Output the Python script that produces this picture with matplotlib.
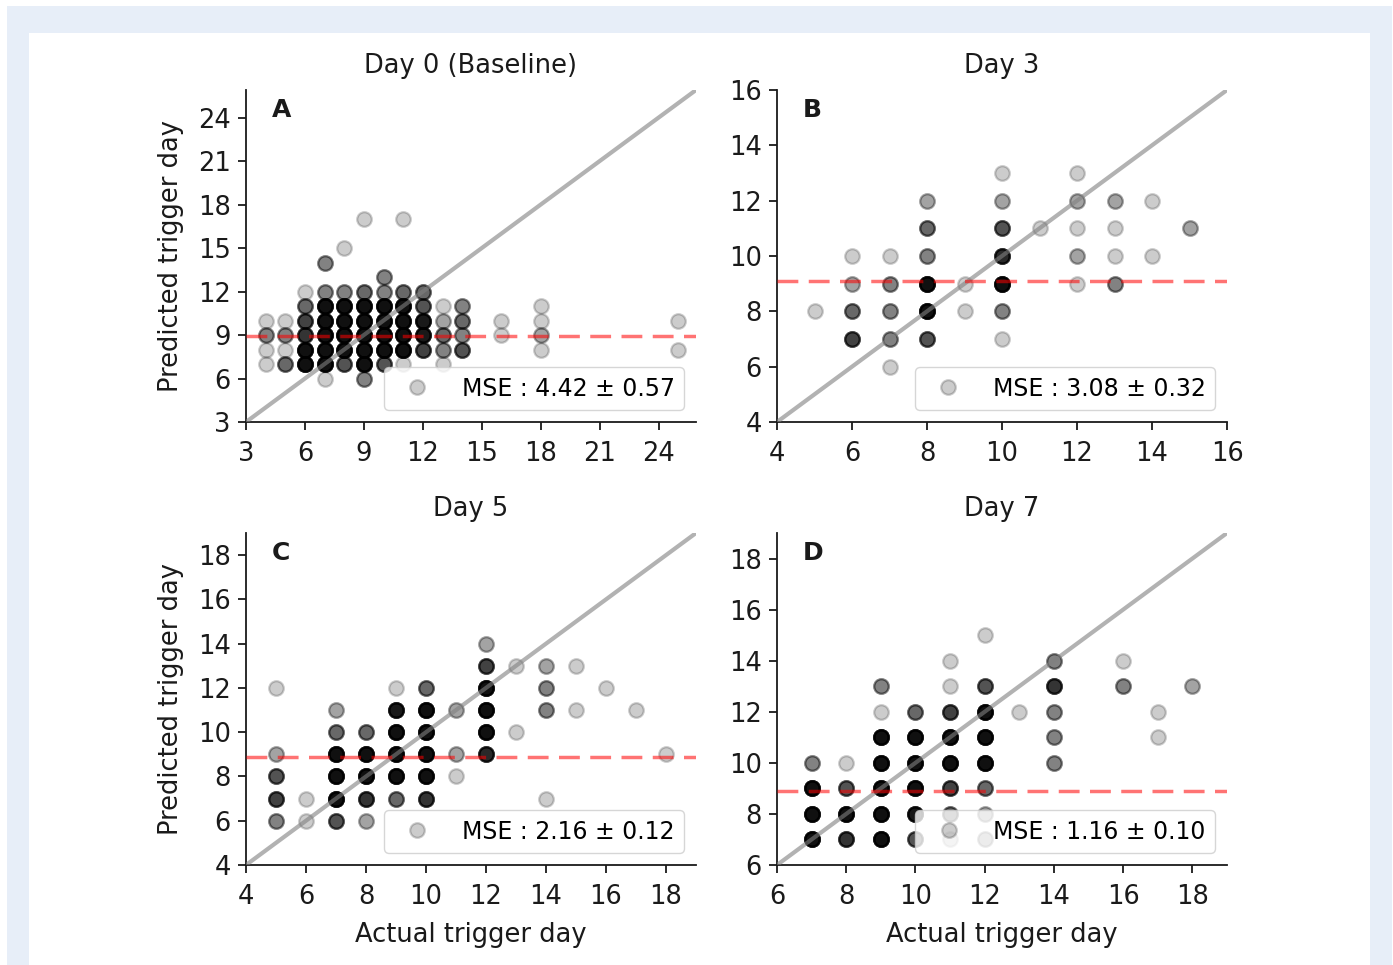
import numpy as np
import matplotlib
matplotlib.use("Agg")
import matplotlib.pyplot as plt
from matplotlib.patches import Rectangle

plt.rcParams['font.family'] = ['DejaVu Sans']
plt.rcParams['font.size'] = 18

# ---------------- data ----------------
titles = ["Day 0 (Baseline)", "Day 3", "Day 5", "Day 7"]
letters = ["A", "B", "C", "D"]
mse_labels = ["MSE : 4.42 ± 0.57", "MSE : 3.08 ± 0.32",
              "MSE : 2.16 ± 0.12", "MSE : 1.16 ± 0.10"]
mean_pred = [8.92, 9.1, 8.86, 8.88]

a_actual = [4,4,4,4, 5,5,5,5, 6,6,6,6,6,6, 7,7,7,7,7,7,7,7, 8,8,8,8,8,8,8,
            9,9,9,9,9,9,9,9, 10,10,10,10,10,10,10, 11,11,11,11,11,11,11,
            12,12,12,12,12, 13,13,13,13,13, 14,14,14,14, 16,16, 18,18,18,18, 25,25]
a_pred = [10,9,8,7, 10,9,8,7, 12,11,10,9,8,7, 14,12,11,10,9,8,7,6, 15,12,11,10,9,8,7,
          17,12,11,10,9,8,7,6, 13,12,11,10,9,8,7, 17,12,11,10,9,8,7,
          12,11,10,9,8, 11,10,9,8,7, 11,10,9,8, 10,9, 11,10,9,8, 10,8]
a_count = [1,3,1,1, 1,3,1,4, 1,4,6,7,12,12, 3,3,12,12,12,12,12,1, 1,3,12,12,12,12,5,
           1,4,12,12,12,12,12,3, 3,3,12,12,12,12,5, 1,4,12,12,12,12,1,
           4,5,10,10,6, 1,2,4,3,1, 3,4,3,5, 1,1, 1,1,2,1, 1,1]

b_actual = [5, 6,6,6,6, 7,7,7,7,7, 8,8,8,8,8,8, 9,9, 10,10,10,10,10,10,10, 11,
            12,12,12,12,12, 13,13,13,13, 14,14, 15]
b_pred = [8, 10,9,8,7, 10,9,8,7,6, 12,11,10,9,8,7, 9,8, 13,12,11,10,9,8,7, 11,
          13,12,11,10,9, 12,11,10,9, 12,10, 11]
b_count = [1, 1,2,4,6, 1,3,3,3,1, 2,4,3,12,12,5, 1,1, 1,2,5,8,12,3,1, 1,
           1,2,1,2,1, 2,1,1,3, 1,1, 2]

c_actual = [5,5,5,5,5, 6,6, 7,7,7,7,7,7, 8,8,8,8,8, 9,9,9,9,9,9, 10,10,10,10,10,10,
            11,11,11, 12,12,12,12,12,12, 13,13, 14,14,14,14, 15,15, 16, 17, 18]
c_pred = [12,9,8,7,6, 7,6, 11,10,9,8,7,6, 10,9,8,7,6, 12,11,10,9,8,7, 12,11,10,9,8,7,
          11,9,8, 14,13,12,11,10,9, 13,10, 13,12,11,7, 13,11, 12, 11, 9]
c_count = [1,2,5,6,3, 1,1, 2,4,12,12,12,5, 4,12,12,7,2, 1,10,12,12,12,4, 4,12,12,12,12,7,
           2,2,1, 2,6,12,12,12,8, 1,1, 2,3,3,1, 1,1, 1, 1, 1]

d_actual = [7,7,7,7, 8,8,8,8, 9,9,9,9,9,9,9, 10,10,10,10,10,10,
            11,11,11,11,11,11,11,11, 12,12,12,12,12,12,12,12, 13,
            14,14,14,14,14, 16,16, 17,17, 18]
d_pred = [10,9,8,7, 10,9,8,7, 13,12,11,10,9,8,7, 12,11,10,9,8,7,
          14,13,12,11,10,9,8,7, 15,13,12,11,10,9,8,7, 12,
          14,13,12,11,10, 14,13, 12,11, 13]
d_count = [3,12,12,12, 1,5,12,7, 3,1,12,12,12,12,12, 4,12,12,12,10,5,
           1,1,6,12,12,6,4,1, 1,5,12,12,12,4,2,2, 1,
           3,7,3,3,3, 1,3, 1,1, 2]

axis_limits = [(3, 25.9), (4, 16), (4, 19), (6, 19)]
tick_sets = [np.arange(3, 25, 3), np.arange(4, 17, 2), np.arange(4, 19, 2), np.arange(6, 19, 2)]

panels = [(a_actual, a_pred, a_count), (b_actual, b_pred, b_count),
          (c_actual, c_pred, c_count), (d_actual, d_pred, d_count)]

# ---------------- figure ----------------
W, H = 1393, 965
fig = plt.figure(figsize=(W / 100, H / 100), dpi=100)
fig.patch.set_facecolor('white')
fig.add_artist(Rectangle((7 / W, 0), (1392 - 7) / W, (965 - 6) / H,
                         transform=fig.transFigure, facecolor='#e7eef8',
                         edgecolor='none', zorder=-10))
fig.add_artist(Rectangle((29 / W, 0), (1370 - 29) / W, (965 - 33) / H,
                         transform=fig.transFigure, facecolor='white',
                         edgecolor='none', zorder=-9))

lefts = [246, 777, 246, 777]
tops = [90, 90, 533, 533]
aw, ah = 450, 332
text_col = '#1a1a1a'

for i, (xs, ys, cs) in enumerate(panels):
    ax = fig.add_axes([lefts[i] / W, 1 - (tops[i] + ah) / H, aw / W, ah / H])
    ax.set_facecolor('none')
    xr = np.repeat(xs, cs)
    yr = np.repeat(ys, cs)
    ax.plot(xr, yr, linestyle='none', marker='o', markersize=10.5,
            markeredgewidth=1.6, color='black', alpha=0.2,
            label=mse_labels[i], zorder=2)
    lo, hi = axis_limits[i]
    ax.plot([lo, hi], [lo, hi], color='grey', alpha=0.6, linewidth=3, zorder=3)
    ax.axhline(mean_pred[i], color='red', alpha=0.55, linewidth=2.5,
               dashes=(6, 3), zorder=3)
    ax.set_xlim(lo, hi)
    ax.set_ylim(lo, hi)
    ax.set_xticks(tick_sets[i])
    ax.set_yticks(tick_sets[i])
    for s in ['top', 'right']:
        ax.spines[s].set_visible(False)
    for s in ['left', 'bottom']:
        ax.spines[s].set_linewidth(1.3)
        ax.spines[s].set_color(text_col)
    ax.tick_params(length=6, width=1.3, labelsize=18.5, colors=text_col)
    ax.tick_params(axis='x', pad=8)
    ax.tick_params(axis='y', pad=5)
    ax.set_title(titles[i], fontsize=18.5, color=text_col, pad=12)
    ax.text(0.058, 0.94, letters[i], transform=ax.transAxes, fontsize=18,
            fontweight='bold', color=text_col, ha='left', va='center')
    leg = ax.legend(loc='lower right', fontsize=17, numpoints=1,
                    handletextpad=0.9, borderpad=0.4, framealpha=0.8)
    leg.get_frame().set_edgecolor('#cccccc')
    if i % 2 == 0:
        ax.set_ylabel("Predicted trigger day", fontsize=18.5, color=text_col,
                      labelpad=10)
    if i >= 2:
        ax.set_xlabel("Actual trigger day", fontsize=18.5, color=text_col,
                      labelpad=8)

fig.savefig("out.png", dpi=100)
